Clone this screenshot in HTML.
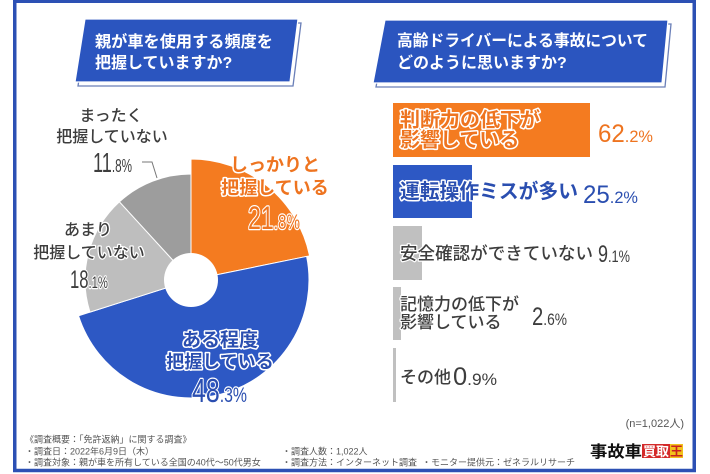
<!DOCTYPE html>
<html><head><meta charset="utf-8"><style>
html,body{margin:0;padding:0;background:#fff;}
svg{display:block;}
text{font-family:"Liberation Sans","Noto Sans CJK JP",sans-serif;}
.w{fill:#fff;font-weight:bold;font-size:16px;}
.o{fill:#EE7420;stroke:#fff;stroke-width:3;paint-order:stroke;stroke-linejoin:round;font-weight:bold;}
.b{fill:#2A4EB0;stroke:#fff;stroke-width:3;paint-order:stroke;stroke-linejoin:round;font-weight:bold;}
.g{fill:#3d3d3d;stroke:#fff;stroke-width:2.5;paint-order:stroke;stroke-linejoin:round;font-weight:500;}
.on{fill:#EE7420;stroke:#fff;stroke-width:2.5;paint-order:stroke;stroke-linejoin:round;}
.bn{fill:#2A4EB0;stroke:#fff;stroke-width:2.5;paint-order:stroke;stroke-linejoin:round;}
.f{fill:#555;font-size:9px;}
</style></head><body>
<svg width="710" height="474" viewBox="0 0 710 474" xmlns="http://www.w3.org/2000/svg">
<rect width="710" height="474" fill="#fff"/>
<rect x="14.75" y="1.25" width="679.5" height="469.25" fill="#fff" stroke="#2C50B4" stroke-width="3.5"/>

<!-- left title -->
<polygon points="88,23 301,23 293,86 78,86" fill="#fff" stroke="#6a7fb8" stroke-width="1.3"/>
<polygon points="85,19 298,19 290,82 75,82" fill="#2B55BF" stroke="#fff" stroke-width="1.2"/>
<text class="w" x="95" y="47" textLength="178" lengthAdjust="spacingAndGlyphs">親が車を使用する頻度を</text>
<text class="w" x="95" y="68">把握していますか?</text>

<!-- right title -->
<polygon points="388,24 671,24 665,87 376,87" fill="#fff" stroke="#6a7fb8" stroke-width="1.3"/>
<polygon points="385,20 668,20 662,83 373,83" fill="#2B55BF" stroke="#fff" stroke-width="1.2"/>
<text class="w" x="397" y="46" textLength="251" lengthAdjust="spacingAndGlyphs">高齢ドライバーによる事故について</text>
<text class="w" x="397" y="68">どのように思いますか?</text>

<!-- pie -->
<g stroke="#fff" stroke-width="1">
<path d="M191,280 L191,159 A121,121 0 0,1 309.56,255.83 Z" fill="#F47B20"/>
<path d="M191,280 L306.62,256.43 A118,118 0 0,1 78.55,315.76 Z" fill="#2D58C4"/>
<path d="M191,280 L89.98,312.12 A106,106 0 0,1 119.44,201.80 Z" fill="#BEBEBE"/>
<path d="M191,280 L119.44,201.80 A106,106 0 0,1 191,174 Z" fill="#9D9D9D"/>
</g>
<circle cx="191" cy="280" r="27" fill="#fff"/>
<polyline points="142,162 152,162 157,178" fill="none" stroke="#777" stroke-width="1"/>

<!-- pie labels -->
<text class="g" x="111" y="121" font-size="16" text-anchor="middle">まったく</text>
<text class="g" x="112" y="142" font-size="16" text-anchor="middle">把握していない</text>
<text class="g" x="93" y="172" textLength="39" lengthAdjust="spacingAndGlyphs"><tspan font-size="28">11</tspan><tspan font-size="18">.8%</tspan></text>

<text class="g" x="88" y="235" font-size="16" text-anchor="middle">あまり</text>
<text class="g" x="89" y="258" font-size="16" text-anchor="middle">把握していない</text>
<text class="g" x="70" y="288" textLength="38" lengthAdjust="spacingAndGlyphs"><tspan font-size="25">18</tspan><tspan font-size="17">.1%</tspan></text>

<text class="o" x="275" y="171" font-size="18" text-anchor="middle">しっかりと</text>
<text class="o" x="275" y="194" font-size="18" text-anchor="middle">把握している</text>
<text class="on" x="248" y="229" textLength="52" lengthAdjust="spacingAndGlyphs"><tspan font-size="32">21</tspan><tspan font-size="21">.8%</tspan></text>

<text class="b" x="220" y="346" font-size="19" text-anchor="middle">ある程度</text>
<text class="b" x="220" y="368" font-size="18" text-anchor="middle">把握している</text>
<text class="bn" x="192" y="402" textLength="55" lengthAdjust="spacingAndGlyphs"><tspan font-size="33">48</tspan><tspan font-size="21">.3%</tspan></text>

<!-- bars -->
<rect x="393" y="103" width="197" height="54" fill="#F47B20"/>
<rect x="393" y="165" width="79" height="53" fill="#2D58C4"/>
<rect x="393" y="226" width="29" height="54" fill="#C0C0C0"/>
<rect x="393" y="287" width="8" height="53" fill="#C0C0C0"/>
<rect x="393" y="348" width="3" height="54" fill="#C0C0C0"/>

<text class="o" x="400" y="126.5" font-size="20">判断力の低下が</text>
<text class="o" x="400" y="146.5" font-size="20">影響している</text>
<text class="on" x="598" y="142" textLength="55" lengthAdjust="spacingAndGlyphs"><tspan font-size="25">62</tspan><tspan font-size="17">.2%</tspan></text>

<text class="b" x="400" y="198" font-size="20" textLength="178" lengthAdjust="spacingAndGlyphs">運転操作ミスが多い</text>
<text class="bn" x="583" y="203" textLength="55" lengthAdjust="spacingAndGlyphs"><tspan font-size="25">25</tspan><tspan font-size="17">.2%</tspan></text>

<text class="g" x="400" y="259.5" font-size="17.5" textLength="193" lengthAdjust="spacingAndGlyphs">安全確認ができていない</text>
<text class="g" x="598" y="262" textLength="32" lengthAdjust="spacingAndGlyphs"><tspan font-size="24">9</tspan><tspan font-size="17">.1%</tspan></text>

<text class="g" x="400" y="310" font-size="17">記憶力の低下が</text>
<text class="g" x="400" y="328" font-size="17">影響している</text>
<text class="g" x="532" y="325" textLength="35" lengthAdjust="spacingAndGlyphs"><tspan font-size="25">2</tspan><tspan font-size="17">.6%</tspan></text>

<text class="g" x="400" y="383" font-size="17">その他</text>
<text class="g" x="453" y="385" textLength="44" lengthAdjust="spacingAndGlyphs"><tspan font-size="25">0</tspan><tspan font-size="17">.9%</tspan></text>

<text x="684" y="427" font-size="11" fill="#555" text-anchor="end">(n=1,022人)</text>

<!-- logo -->
<text x="590" y="457" font-size="16" font-weight="bold" fill="#111" textLength="52" lengthAdjust="spacingAndGlyphs">事故車</text>
<rect x="642" y="444" width="28" height="14" fill="#D42A2A"/>
<text x="643" y="456" font-size="13" font-weight="bold" fill="#fff" textLength="26" lengthAdjust="spacingAndGlyphs">買取</text>
<rect x="670" y="444" width="13" height="14" fill="#F2C21B"/>
<text x="670" y="456" font-size="13" font-weight="bold" fill="#C92020" textLength="13" lengthAdjust="spacingAndGlyphs">王</text>

<!-- footer -->
<text class="f" x="25" y="442.5">《調査概要：「免許返納」に関する調査》</text>
<text class="f" x="25" y="454.5">・調査日：2022年6月9日（木）</text>
<text class="f" x="25" y="465.5">・調査対象：親が車を所有している全国の40代～50代男女</text>
<text class="f" x="282" y="454.5">・調査人数：1,022人</text>
<text class="f" x="282" y="465.5">・調査方法：インターネット調査</text>
<text class="f" x="422" y="465.5">・モニター提供元：ゼネラルリサーチ</text>
</svg>
</body></html>
